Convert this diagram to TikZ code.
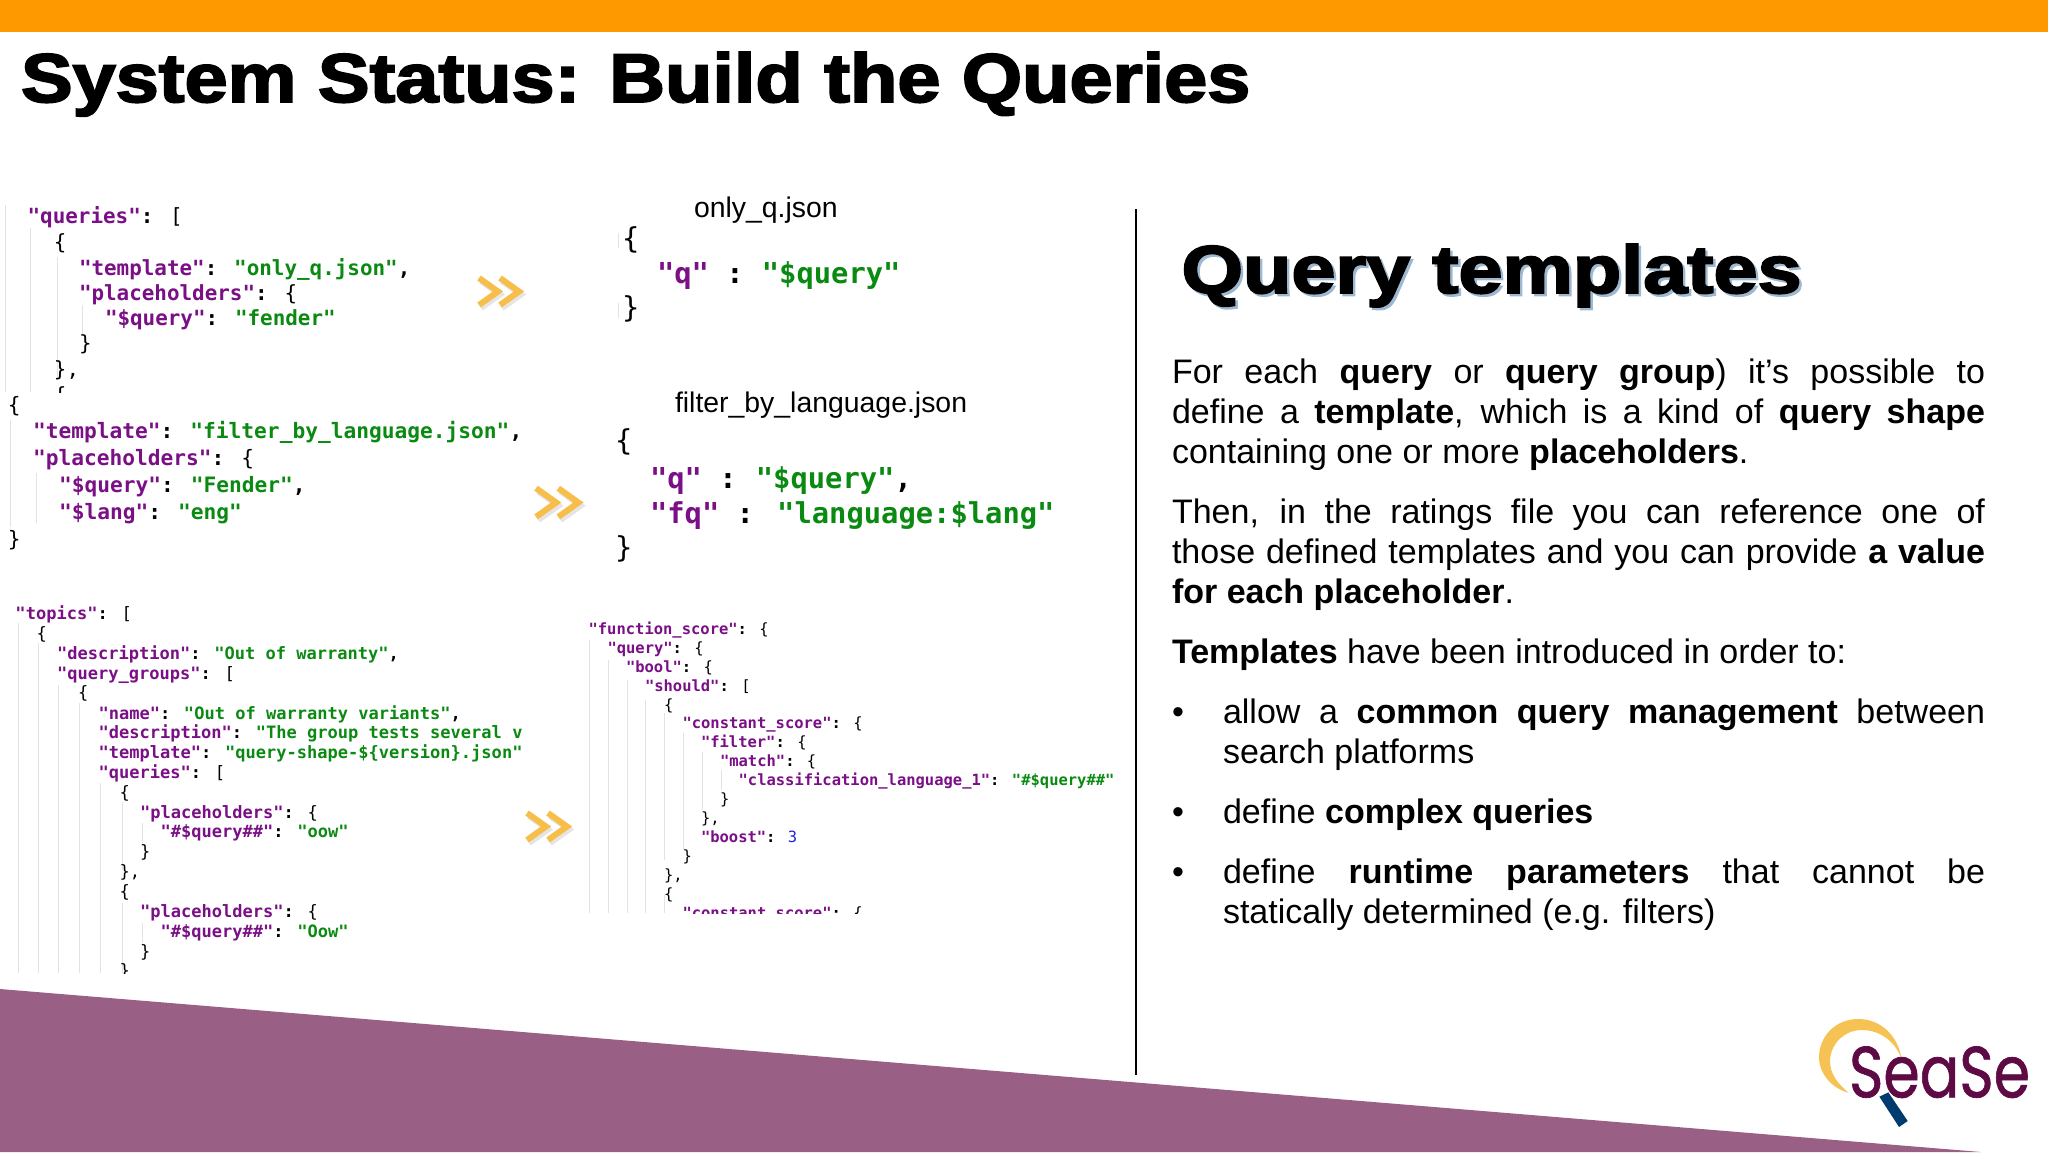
\documentclass[tikz,border=0pt]{standalone}
\usepackage{fontspec}
\usepackage{graphicx}
\setmainfont{Liberation Sans}
\newfontfamily\codefont{DejaVu Sans Mono}
\newfontfamily\heavyfont[FakeBold=2.6]{Liberation Sans Bold}
\newfontfamily\logofont[FakeBold=1]{Poppins}
\definecolor{barorange}{HTML}{FF9900}
\definecolor{bandpurple}{HTML}{9A5F85}
\definecolor{keypurple}{HTML}{7A0F86}
\definecolor{valgreen}{HTML}{0B8A12}
\definecolor{numblue}{HTML}{2222DD}
\definecolor{guidegray}{HTML}{E3E3E3}
\definecolor{chevgold}{HTML}{F7BE4A}
\definecolor{logogold}{HTML}{F6C253}
\definecolor{logoplum}{HTML}{5E0A44}
\definecolor{lognavy}{HTML}{003B6F}
\definecolor{headshadow}{HTML}{9DB9D2}
\newcommand{\Kk}[1]{\textcolor{keypurple}{#1}}
\newcommand{\Vv}[1]{\textcolor{valgreen}{#1}}
\newcommand{\Nn}[1]{\textcolor{numblue}{\mdseries #1}}
\newcommand{\Rg}[1]{{\mdseries #1}}
\newcommand{\cl}[5][]{\node[codeln,#1] (#2) at (#3,#4) {#5};}
\newcommand{\bl}[4]{\node[bodyln] (#1) at (#2,#3) {#4};}
\newcommand{\jl}[5]{\node[bodyln] (#1) at (#2,#3) {\makebox[#4pt][s]{#5}};}
\newcommand{\guide}[3]{\draw[guideln] (#1,#2) -- (#1,#3);}
\newcommand{\chev}[3]{%
  \begin{scope}[shift={(#1,#2)},scale=#3]
    \draw[chevln,draw=black,opacity=.10] (3,7) -- (22,20.5) -- (3,34);
    \draw[chevln,draw=black,opacity=.10] (24,7) -- (43,20.5) -- (24,34);
    \draw[chevln] (1,4) -- (20,17.5) -- (1,31);
    \draw[chevln] (22,4) -- (41,17.5) -- (22,31);
  \end{scope}}
\tikzset{
  codeln/.style={anchor=base west,inner sep=0pt,outer sep=0pt,font=\codefont\bfseries},
  sz21/.style={font=\codefont\bfseries\fontsize{10.45}{12}\selectfont},
  sz21b/.style={font=\codefont\bfseries\fontsize{10.6}{12}\selectfont},
  sz17/.style={font=\codefont\bfseries\fontsize{8.52}{10}\selectfont},
  sz155/.style={font=\codefont\bfseries\fontsize{7.74}{9}\selectfont},
  sz29/.style={font=\codefont\bfseries\fontsize{14.4}{16}\selectfont},
  bodyln/.style={anchor=base west,inner sep=0pt,outer sep=0pt,font=\fontsize{17}{20}\selectfont},
  filelabel/.style={anchor=base west,inner sep=0pt,outer sep=0pt,font=\fontsize{14.2}{16}\selectfont},
  guideln/.style={draw=guidegray,line width=.5pt},
  chevln/.style={draw=chevgold,line width=3pt,miter limit=10},
  fitted/.style={anchor=base west,inner sep=0pt,outer sep=0pt},
}
\begin{document}
\begin{tikzpicture}[x=0.5pt,y=-0.5pt]
\useasboundingbox (0,0) rectangle (2048,1152);
\fill[white] (0,0) rectangle (2048,1152);
\fill[barorange] (0,0) rectangle (2048,32);
\fill[bandpurple] (0,989) -- (1981,1152) -- (0,1152) -- cycle;
\draw[black,line width=1pt] (1136,209) -- (1136,1075);

\node[fitted] (title) at (21,102) {\resizebox{614.5pt}{25pt}{\heavyfont System Status: Build the Queries}};

% queries block
\guide{5}{205}{392}\guide{30}{228}{392}\guide{57}{257}{380}\guide{82}{305}{335}
\begin{scope}
\clip (0,190) rectangle (540,392);
\cl[sz21]{a1}{27.6}{223}{\Kk{"queries"}: \Rg{[}}
\cl[sz21]{a2}{54}{249}{\Rg{\{}}
\cl[sz21]{a3}{79}{275}{\Kk{"template"}: \Vv{"only\_q.json"},}
\cl[sz21]{a4}{79}{300}{\Kk{"placeholders"}: \Rg{\{}}
\cl[sz21]{a5}{105}{325}{\Kk{"\$query"}: \Vv{"fender"}}
\cl[sz21]{a6}{79}{350}{\Rg{\}}}
\cl[sz21]{a7}{54}{376}{\Rg{\},}}
\cl[sz21]{a8}{54}{402}{\Rg{\{}}
\end{scope}
\guide{10}{420}{527}\guide{36}{473}{523}
\cl[sz21b]{b1}{8}{412}{\Rg{\{}}
\cl[sz21b]{b2}{33}{438}{\Kk{"template"}: \Vv{"filter\_by\_language.json"},}
\cl[sz21b]{b3}{33}{465}{\Kk{"placeholders"}: \Rg{\{}}
\cl[sz21b]{b4}{59}{492}{\Kk{"\$query"}: \Vv{"Fender"},}
\cl[sz21b]{b5}{59}{519}{\Kk{"\$lang"}: \Vv{"eng"}}
\cl[sz21b]{b6}{8}{546}{\Rg{\}}}

% topics block
\guide{18}{623}{973}\guide{38}{643}{973}\guide{58.5}{685}{973}\guide{79.5}{703}{973}\guide{100}{783}{973}
\guide{122}{802}{870}\guide{122}{903}{973}\guide{142}{823}{843}\guide{142}{923}{943}
\begin{scope}
\clip (0,600) rectangle (522,973);
\cl[sz17]{c0}{15.5}{619.5}{\Kk{"topics"}: \Rg{[}}
\cl[sz17]{c1}{36.5}{639.4}{\Rg{\{}}
\cl[sz17]{c2}{57}{659.2}{\Kk{"description"}: \Vv{"Out of warranty"},}
\cl[sz17]{c3}{57}{679}{\Kk{"query\_groups"}: \Rg{[}}
\cl[sz17]{c4}{78}{698.9}{\Rg{\{}}
\cl[sz17]{c5}{98.5}{719.3}{\Kk{"name"}: \Vv{"Out of warranty variants"},}
\cl[sz17]{c6}{98.5}{738.9}{\Kk{"description"}: \Vv{"The group tests several variants"},}
\cl[sz17]{c7}{98.5}{758.7}{\Kk{"template"}: \Vv{"query-shape-\$\{version\}.json"},}
\cl[sz17]{c8}{98.5}{778.3}{\Kk{"queries"}: \Rg{[}}
\cl[sz17]{c9}{119.5}{798.2}{\Rg{\{}}
\cl[sz17]{c10}{140}{818}{\Kk{"placeholders"}: \Rg{\{}}
\cl[sz17]{c11}{160.5}{837.9}{\Kk{"\#\$query\#\#"}: \Vv{"oow"}}
\cl[sz17]{c12}{140}{857.7}{\Rg{\}}}
\cl[sz17]{c13}{119.5}{877.6}{\Rg{\},}}
\cl[sz17]{c14}{119.5}{897.4}{\Rg{\{}}
\cl[sz17]{c15}{140}{917.3}{\Kk{"placeholders"}: \Rg{\{}}
\cl[sz17]{c16}{160.5}{937.1}{\Kk{"\#\$query\#\#"}: \Vv{"Oow"}}
\cl[sz17]{c17}{140}{957}{\Rg{\}}}
\cl[sz17]{c18}{119.5}{976.8}{\Rg{\}}}
\end{scope}

% only_q
\node[filelabel] (lq) at (694,217) {only\_q.json};
\guide{618}{233}{248}\guide{618}{303}{318}
\cl[sz29]{d1}{622}{248}{\Rg{\{}}
\cl[sz29]{d2}{657}{283.5}{\Kk{"q"} :\kern-2.5pt{} \Vv{"\$query"}}
\cl[sz29]{d3}{622}{317}{\Rg{\}}}

% filter_by_language
\node[filelabel] (lf) at (675,412) {filter\_by\_language.json};
\cl[sz29]{e1}{615}{450.5}{\Rg{\{}}
\cl[sz29]{e2}{650}{488.5}{\Kk{"q"} :\kern-2pt{} \Vv{"\$query"},}
\cl[sz29]{e3}{650}{523.5}{\Kk{"fq"} : \Vv{"language:\$lang"}}
\cl[sz29]{e4}{615}{557.5}{\Rg{\}}}

% function_score block
\guide{589.6}{640}{913}\guide{608.6}{660}{913}\guide{627}{680}{913}\guide{645.7}{700}{913}
\guide{664.6}{713}{860}\guide{664.6}{895}{913}\guide{683}{733}{850}\guide{702}{752}{810}\guide{721}{770}{790}
\begin{scope}
\clip (580,620) rectangle (1130,913);
\cl[sz155]{f0}{588.6}{634.7}{\Kk{"function\_score"}: \Rg{\{}}
\cl[sz155]{f1}{607.5}{653.5}{\Kk{"query"}: \Rg{\{}}
\cl[sz155]{f2}{626}{672.4}{\Kk{"bool"}: \Rg{\{}}
\cl[sz155]{f3}{645}{691.2}{\Kk{"should"}: \Rg{[}}
\cl[sz155]{f4}{664}{710}{\Rg{\{}}
\cl[sz155]{f5}{682.5}{728.8}{\Kk{"constant\_score"}: \Rg{\{}}
\cl[sz155]{f6}{701}{747.6}{\Kk{"filter"}: \Rg{\{}}
\cl[sz155]{f7}{720}{766.4}{\Kk{"match"}: \Rg{\{}}
\cl[sz155]{f8}{738.6}{785.2}{\Kk{"classification\_language\_1"}: \Vv{"\#\$query\#\#"}}
\cl[sz155]{f9}{720}{804}{\Rg{\}}}
\cl[sz155]{f10}{701}{823}{\Rg{\},}}
\cl[sz155]{f11}{701}{842}{\Kk{"boost"}: \Nn{3}}
\cl[sz155]{f12}{682.5}{861}{\Rg{\}}}
\cl[sz155]{f13}{664}{880}{\Rg{\},}}
\cl[sz155]{f14}{664}{899}{\Rg{\{}}
\cl[sz155]{f15}{682.5}{918}{\Kk{"constant\_score"}: \Rg{\{}}
\end{scope}

% chevrons
\chev{478}{274}{1}
\chev{535}{484}{1.06}
\chev{526}{809}{1}

% heading
\node[fitted,text=headshadow] (headshadow) at (1184,295.5) {\resizebox{310pt}{24.5pt}{\heavyfont Query templates}};
\node[fitted] (heading) at (1181.5,293) {\resizebox{310pt}{24.5pt}{\heavyfont Query templates}};

% body
\jl{p1}{1172}{383}{406.5}{For each \textbf{query} or \textbf{query group}) it’s possible to}
\jl{p2}{1172}{423}{406.5}{define a \textbf{template}, which is a kind of \textbf{query shape}}
\bl{p3}{1172}{463}{containing one or more \textbf{placeholders}.}
\jl{p4}{1172}{523}{406.5}{Then, in the ratings file you can reference one of}
\jl{p5}{1172}{563}{406.5}{those defined templates and you can provide \textbf{a value}}
\bl{p6}{1172}{603}{\textbf{for each placeholder}.}
\bl{p7}{1172}{663}{\textbf{Templates} have been introduced in order to:}
\bl{u1}{1172}{723}{•}
\jl{p8}{1223}{723}{381}{allow a \textbf{common query management} between}
\bl{p9}{1223}{763}{search platforms}
\bl{u2}{1172}{823}{•}
\bl{p10}{1223}{823}{define \textbf{complex queries}}
\bl{u3}{1172}{883}{•}
\jl{p11}{1223}{883}{381}{define \textbf{runtime parameters} that cannot be}
\bl{p12}{1223}{923}{statically determined (e.g. filters)}

% logo
\begin{scope}[shift={(1750,980)},x=0.16667pt,y=-0.16667pt]
\fill[logogold] (455,240) .. controls (445,165) and (390,117) .. (325,117)
  .. controls (255,117) and (207,170) .. (207,232)
  .. controls (207,280) and (245,325) .. (295,338)
  .. controls (262,310) and (240,280) .. (240,245)
  .. controls (240,190) and (285,150) .. (335,150)
  .. controls (395,150) and (440,190) .. (455,240) -- cycle;
\fill[lognavy] (388,350) -- (415,337) -- (473,423) -- (447,441) -- cycle;
\node[fitted,text=logoplum] (logo) at (297,352) {\resizebox{90.5pt}{25.5pt}{\logofont SeaSe}};
\end{scope}
\end{tikzpicture}
\end{document}
